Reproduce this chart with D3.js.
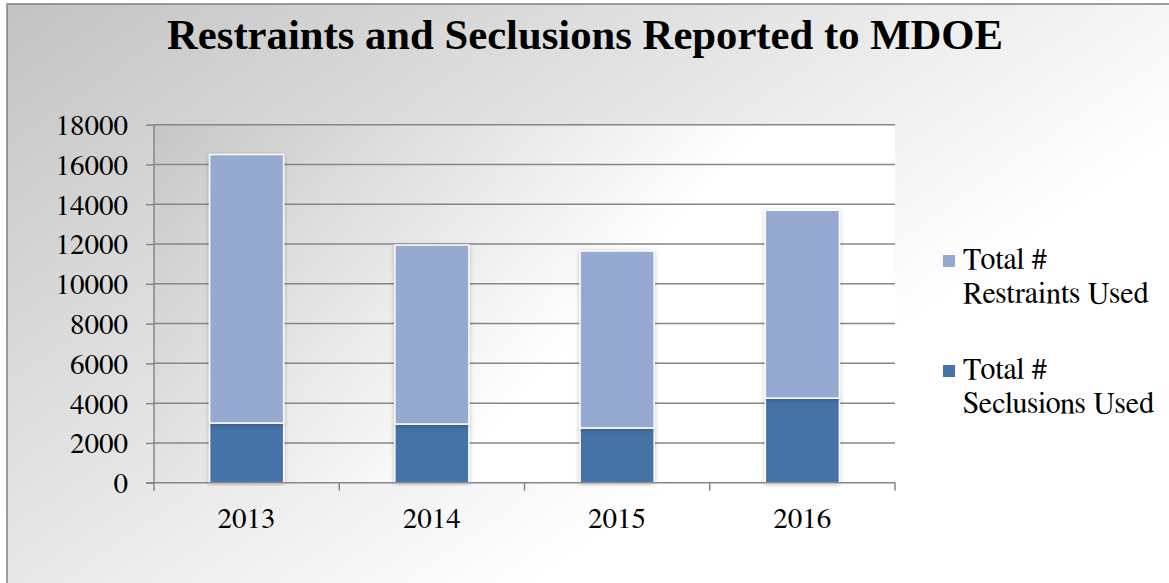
<!DOCTYPE html>
<html>
<head>
<meta charset="utf-8">
<script src="https://cdn.jsdelivr.net/npm/d3@7"></script>
<style>
  html, body { margin: 0; padding: 0; background: #fff; }
  svg { display: block; }
</style>
</head>
<body>
<svg id="chart" width="1169" height="583"></svg>
<script>
const title = "Restraints and Seclusions Reported to MDOE";
const years = ["2013", "2014", "2015", "2016"];
const seclusions = [3000, 2950, 2750, 4250];
const restraints = [13500, 9000, 8900, 9450];
const seriesNames = [["Total #", "Restraints Used"], ["Total #", "Seclusions Used"]];
const seriesColors = ["#95a9d1", "#4572a7"];
const yTicks = [0, 2000, 4000, 6000, 8000, 10000, 12000, 14000, 16000, 18000];

const SERIF = "'FreeSerif', 'Liberation Serif', 'Times New Roman', serif";
const SERIF_B = "'Liberation Serif', 'Times New Roman', serif";
const svg = d3.select("#chart");
const W = 1169, H = 583;

const defs = svg.append("defs");
const bg = defs.append("linearGradient").attr("id", "bg")
  .attr("x1", "0").attr("y1", "0").attr("x2", "0.75").attr("y2", "0.55");
bg.append("stop").attr("offset", "0").attr("stop-color", "#c3c3c3");
bg.append("stop").attr("offset", "1").attr("stop-color", "#ffffff");

const pg = defs.append("linearGradient").attr("id", "pg")
  .attr("x1", "0").attr("y1", "0").attr("x2", "0.7").attr("y2", "0.3");
pg.append("stop").attr("offset", "0").attr("stop-color", "#c6c6c6");
pg.append("stop").attr("offset", "1").attr("stop-color", "#ffffff");

const sh = defs.append("filter").attr("id", "shadow")
  .attr("x", "-20%").attr("y", "-5%").attr("width", "140%").attr("height", "110%");
sh.append("feDropShadow").attr("dx", 0).attr("dy", 1).attr("stdDeviation", 2)
  .attr("flood-color", "#000").attr("flood-opacity", 0.25);

// chart background + border
svg.append("rect").attr("x", 7).attr("y", 4).attr("width", W + 20).attr("height", H + 20)
  .attr("fill", "url(#bg)").attr("stroke", "#808080").attr("stroke-width", 1.5);

// title
svg.append("text").attr("x", 585).attr("y", 49).attr("text-anchor", "middle")
  .style("font-family", SERIF_B).style("font-size", "42.7px").style("font-weight", "bold")
  .attr("fill", "#000").text(title);

const plot = { left: 154, right: 895, top: 124.7, bottom: 482.7 };

const x = d3.scaleBand().domain(years).range([plot.left, plot.right]).padding(0);
const y = d3.scaleLinear().domain([0, 18000]).range([plot.bottom, plot.top]);

// plot area background
svg.append("rect").attr("x", plot.left).attr("y", plot.top)
  .attr("width", plot.right - plot.left).attr("height", plot.bottom - plot.top)
  .attr("fill", "url(#pg)");

// gridlines
svg.append("g").selectAll("line").data(yTicks.filter(d => d > 0)).join("line")
  .attr("x1", plot.left).attr("x2", plot.right)
  .attr("y1", d => y(d)).attr("y2", d => y(d))
  .attr("stroke", "#868686").attr("stroke-width", 1.5);

// bars
const stackData = years.map((yr, i) => ({ year: yr, sec: seclusions[i], res: restraints[i] }));
const stack = d3.stack().keys(["sec", "res"])(stackData);
const barW = x.bandwidth() * 0.4;
const colorByKey = { sec: seriesColors[1], res: seriesColors[0] };

svg.append("g").selectAll("g").data(stack).join("g")
  .attr("fill", d => colorByKey[d.key])
  .selectAll("rect").data(d => d).join("rect")
  .attr("x", d => x(d.data.year) + (x.bandwidth() - barW) / 2)
  .attr("width", barW)
  .attr("y", d => y(d[1]))
  .attr("height", d => y(d[0]) - y(d[1]))
  .attr("stroke", "#ffffff").attr("stroke-width", 1.5)
  .attr("filter", "url(#shadow)");

// y axis
const yAxis = d3.axisLeft(y).tickValues(yTicks).tickSize(8).tickPadding(18).tickFormat(d3.format("d"));
const ya = svg.append("g").attr("transform", `translate(${plot.left},0)`).call(yAxis);
ya.attr("font-family", null).attr("font-size", null);
ya.select(".domain").remove();
ya.append("line").attr("x1", 0).attr("x2", 0).attr("y1", plot.top).attr("y2", plot.bottom + 8)
  .attr("stroke", "#868686").attr("stroke-width", 1.5);
ya.selectAll(".tick line").attr("stroke", "#868686").attr("stroke-width", 1.5);
ya.selectAll(".tick text").attr("dy", "0.34em").attr("fill", "#000")
  .style("font-family", SERIF).style("font-size", "29px");

// x axis
const xa = svg.append("g").attr("transform", `translate(0,${plot.bottom})`);
xa.append("line").attr("x1", plot.left - 8).attr("x2", plot.right).attr("y1", 0).attr("y2", 0)
  .attr("stroke", "#868686").attr("stroke-width", 1.5);
const bounds = years.map(d => x(d)).concat([plot.right]);
xa.selectAll("line.b").data(bounds.slice(1)).join("line").attr("class", "b")
  .attr("x1", d => d).attr("x2", d => d).attr("y1", 0).attr("y2", 8)
  .attr("stroke", "#868686").attr("stroke-width", 1.5);
xa.selectAll("text").data(years).join("text")
  .attr("x", d => x(d) + x.bandwidth() / 2).attr("y", 45)
  .attr("text-anchor", "middle").attr("fill", "#000")
  .style("font-family", SERIF).style("font-size", "29px").text(d => d);

// legend
const legend = svg.append("g").attr("transform", "translate(943,255)");
const items = legend.selectAll("g").data(seriesNames).join("g")
  .attr("transform", (d, i) => `translate(0,${i * 110})`);
items.append("rect").attr("width", 12).attr("height", 12)
  .attr("fill", (d, i) => seriesColors[i]);
items.append("text").attr("x", 20).attr("y", 14).attr("fill", "#000")
  .style("font-family", SERIF).style("font-size", "30px")
  .selectAll("tspan").data(d => d).join("tspan")
  .attr("x", 20).attr("dy", (d, i) => i === 0 ? 0 : 34).text(d => d);
</script>
</body>
</html>
